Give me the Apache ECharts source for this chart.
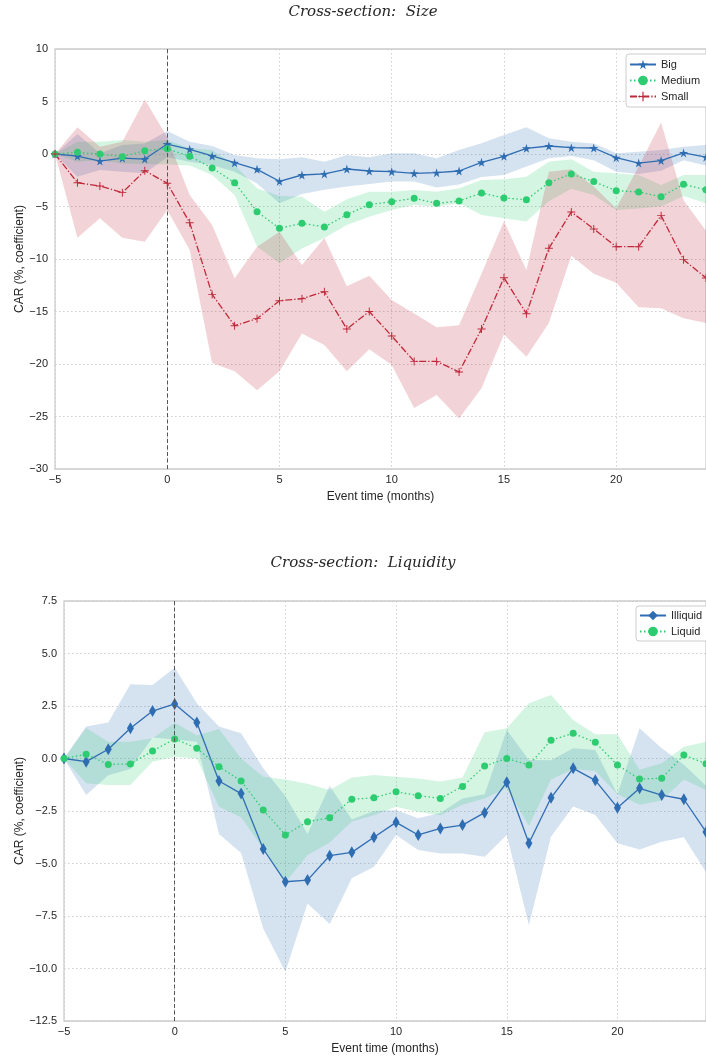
<!DOCTYPE html>
<html>
<head>
<meta charset="utf-8">
<title>Cross-section CAR</title>
<script src="https://cdn.jsdelivr.net/npm/echarts@6/dist/echarts.min.js"></script>
<style>
  html, body { margin: 0; padding: 0; background: #fff; }
  #chart { width: 706px; height: 1057px; }
</style>
</head>
<body>
<div id="chart"></div>
<script>
// Event time in months relative to the event
const months = [-5, -4, -3, -2, -1, 0, 1, 2, 3, 4, 5, 6, 7, 8, 9, 10, 11, 12, 13, 14, 15, 16, 17, 18, 19, 20, 21, 22, 23, 24];

// Size cross-section: point estimates and confidence bands (CAR, %)
const bigCar = [0, -0.2, -0.67, -0.4, -0.48, 0.95, 0.45, -0.19, -0.83, -1.46, -2.6, -2.0, -1.9, -1.43, -1.62, -1.68, -1.84, -1.78, -1.62, -0.79, -0.22, 0.54, 0.76, 0.6, 0.57, -0.35, -0.86, -0.63, 0.1, -0.3];
const bigHi  = [0, 1.9, 0.06, 0.86, 1.0, 2.2, 1.17, 0.76, -0.1, -0.41, -0.5, -0.32, -0.73, -0.1, -0.32, 0.06, 0.06, -0.41, 0.38, 1.02, 1.81, 2.54, 1.49, 1.17, 1.0, 0.06, 0.22, 0.38, 0.7, 0.86];
const bigLo  = [0, -2.16, -1.52, -1.68, -1.84, -0.3, -0.73, -1.05, -1.68, -2.8, -4.7, -3.8, -3.4, -3.1, -2.86, -2.63, -2.63, -3.2, -2.9, -2.2, -2.0, -1.2, -0.4, -0.2, -0.6, -1.7, -1.9, -1.6, -0.6, -1.1];

const medCar = [0, 0.16, 0, -0.25, 0.32, 0.51, -0.22, -1.33, -2.73, -5.5, -7.08, -6.6, -6.95, -5.78, -4.83, -4.54, -4.22, -4.7, -4.48, -3.71, -4.19, -4.35, -2.73, -1.9, -2.63, -3.49, -3.62, -4.06, -2.89, -3.4];
const medHi  = [0, 1.17, 1.17, 1.33, 1.17, 1.33, 0.54, 0.38, -1.05, -3.27, -4.0, -4.06, -5.49, -4.3, -3.6, -3.59, -3.43, -3.59, -3.27, -2.48, -2.41, -2.16, -0.73, -0.51, -1.68, -1.84, -2.0, -2.95, -2.0, -2.0];
const medLo  = [0, -0.73, -0.6, -0.9, -0.95, -1.0, -1.1, -2.0, -3.9, -8.8, -10.4, -9.0, -8.0, -6.76, -5.97, -5.33, -4.86, -5.02, -4.7, -5.81, -6.13, -6.44, -4.5, -3.3, -3.9, -5.33, -5.2, -5.0, -4.0, -4.7];

const smallCar = [0, -2.73, -3.05, -3.68, -1.59, -2.79, -6.54, -13.37, -16.35, -15.68, -13.97, -13.78, -13.11, -16.67, -15.0, -17.33, -19.75, -19.75, -20.76, -16.67, -11.78, -15.21, -8.98, -5.52, -7.14, -8.83, -8.83, -5.87, -10.06, -11.8];
const smallHi  = [0, 2.54, 0.7, 1.17, 5.2, 1.6, -3.9, -6.76, -11.84, -8.83, -7.4, -10.57, -8.0, -12.6, -11.6, -13.9, -15.2, -16.5, -16.3, -11.4, -6.4, -11.05, -1.68, -1.46, -3.1, -5.17, -1.2, 3.0, -4.4, -7.3];
const smallLo  = [0, -7.97, -6.13, -7.97, -8.35, -5.33, -9.14, -19.9, -20.7, -22.5, -20.7, -17.1, -18.2, -20.7, -18.6, -20.1, -24.2, -22.95, -25.2, -22.3, -17.2, -19.3, -16.1, -9.7, -11.4, -12.25, -14.6, -14.7, -15.65, -16.1];

// Liquidity cross-section
const illiqCar = [0, -0.15, 0.44, 1.44, 2.26, 2.6, 1.71, -1.07, -1.67, -4.31, -5.87, -5.79, -4.63, -4.47, -3.75, -3.04, -3.64, -3.33, -3.17, -2.58, -1.13, -4.04, -1.87, -0.47, -1.04, -2.34, -1.42, -1.74, -1.94, -3.5];
const illiqHi  = [0, 1.52, 1.71, 3.53, 3.5, 4.32, 2.63, 1.52, 1.2, -0.47, -1.8, -3.6, -1.3, -2.9, -2.5, -2.45, -2.84, -2.6, -1.9, -1.7, 1.36, -0.07, -0.08, 0.49, 0.41, -1.7, 1.44, 0.49, -0.3, -1.3];
const illiqLo  = [0, -1.74, -0.8, -0.5, 1.0, 0.9, 0.8, -3.6, -4.5, -8.09, -10.15, -6.9, -7.88, -5.7, -5.15, -3.64, -4.36, -4.52, -4.52, -4.68, -3.64, -7.93, -3.72, -2.29, -2.69, -4.04, -4.33, -3.96, -3.75, -5.4];

const liqCar = [0, 0.2, -0.28, -0.26, 0.36, 0.93, 0.49, -0.39, -1.07, -2.45, -3.64, -3.01, -2.82, -1.94, -1.87, -1.58, -1.77, -1.9, -1.33, -0.36, 0.0, -0.31, 0.87, 1.2, 0.77, -0.31, -0.98, -0.94, 0.17, -0.25];
const liqHi  = [0, 1.45, 0.8, 0.8, 0.96, 1.7, 1.1, 1.4, 0.0, -0.87, -1.0, -1.2, -1.5, -0.91, -0.78, -0.87, -0.95, -1.1, -0.91, 1.25, 1.44, 2.63, 3.02, 1.83, 1.15, 1.15, -0.54, -0.23, 0.56, 0.8];
const liqLo  = [0, -1.18, -1.26, -1.26, -0.16, 0.08, 0.0, -2.3, -2.8, -4.3, -5.9, -4.6, -4.0, -3.0, -2.7, -2.3, -2.55, -2.7, -2.2, -1.9, -1.4, -3.2, -1.0, -0.5, -0.6, -1.7, -2.2, -2.0, -1.0, -1.5];

// Axis tick values
const sizeTicksY = [-30, -25, -20, -15, -10, -5, 0, 5, 10];
const liqTicksY = [-12.5, -10, -7.5, -5, -2.5, 0, 2.5, 5, 7.5];
const ticksX = [-5, 0, 5, 10, 15, 20];

const BLUE = '#2f6db3';
const GREEN = '#2ecc71';
const RED = '#c0283a';
const SANS = '"Liberation Sans", Arial, sans-serif';
const TXT = '#262626';

const STAR = 'path://M50,0 L61,35 L98,35 L68,57 L79,91 L50,70 L21,91 L32,57 L2,35 L39,35 Z';
const PLUS = 'path://M44,0 H56 V44 H100 V56 H56 V100 H44 V56 H0 V44 H44 Z';

const minus = v => String(v).replace('-', '\u2212');

// Shaded confidence band drawn as one polygon through the axis scales
function band(axis, lo, hi, fill) {
  const data = months.map((m, i) => [m, lo[i], hi[i]]);
  return {
    type: 'custom', xAxisIndex: axis, yAxisIndex: axis, silent: true, z: 1,
    data, encode: { x: 0, y: [1, 2] },
    renderItem(params, api) {
      if (params.dataIndex !== 0) return null;
      const up = data.map(d => api.coord([d[0], d[2]]));
      const dn = data.map(d => api.coord([d[0], d[1]])).reverse();
      const cs = params.coordSys;
      return {
        type: 'polygon',
        shape: { points: up.concat(dn) },
        style: { fill },
        clipPath: { type: 'rect', shape: { x: cs.x, y: cs.y, width: cs.width, height: cs.height } }
      };
    }
  };
}

function line(axis, name, values, color, dash, symbol, symbolSize) {
  return {
    type: 'line', name, xAxisIndex: axis, yAxisIndex: axis, z: 3,
    data: months.map((m, i) => [m, values[i]]),
    symbol, symbolSize, showSymbol: true,
    lineStyle: { color, width: 1.3, type: dash },
    itemStyle: { color, borderWidth: 0 },
    emphasis: { disabled: true }
  };
}

const zeroLine = {
  silent: true, symbol: 'none', label: { show: false },
  lineStyle: { color: '#555', type: [4, 2.5], width: 1 },
  data: [{ xAxis: 0 }]
};

function xAxis(gridIndex) {
  return {
    type: 'value', gridIndex, min: -5, max: 24, interval: 5,
    name: 'Event time (months)', nameLocation: 'middle', nameGap: 22, nameMoveOverlap: false,
    nameTextStyle: { fontFamily: SANS, fontSize: 12, color: TXT },
    axisLine: { show: false }, axisTick: { show: false },
    axisLabel: {
      fontFamily: SANS, fontSize: 11, color: TXT, margin: 5, showMaxLabel: false,
      formatter: v => ticksX.includes(v) ? minus(v) : ''
    },
    splitLine: { show: true, lineStyle: { color: '#cfcfcf', type: [1.5, 2.5], width: 1 } }
  };
}

function yAxis(gridIndex, min, max, interval, ticks, nameGap, fmt) {
  return {
    type: 'value', gridIndex, min, max, interval,
    name: 'CAR (%, coefficient)', nameLocation: 'middle', nameGap, nameMoveOverlap: false,
    nameTextStyle: { fontFamily: SANS, fontSize: 12, color: TXT },
    axisLine: { show: false }, axisTick: { show: false },
    axisLabel: {
      fontFamily: SANS, fontSize: 11, color: TXT, margin: 7,
      formatter: v => ticks.includes(v) ? minus(fmt(v)) : ''
    },
    splitLine: { show: true, lineStyle: { color: '#cfcfcf', type: [1.5, 2.5], width: 1 } }
  };
}

const legendBase = {
  orient: 'vertical', selectedMode: false,
  backgroundColor: '#fff', borderColor: '#cccccc', borderWidth: 1, borderRadius: 3,
  itemWidth: 26, itemHeight: 12, itemGap: 5,
  textStyle: { fontFamily: SANS, fontSize: 11, color: TXT }
};

const chart = echarts.init(document.getElementById('chart'), null, { renderer: 'canvas' });
chart.setOption({
  animation: false,
  backgroundColor: '#ffffff',
  graphic: [
    { type: 'text', x: 363, y: 12, style: { text: 'Cross-section:  Size', font: 'italic 15px "DejaVu Serif", serif', fill: TXT, textAlign: 'center', textVerticalAlign: 'middle' } },
    { type: 'text', x: 363, y: 563, style: { text: 'Cross-section:  Liquidity', font: 'italic 15px "DejaVu Serif", serif', fill: TXT, textAlign: 'center', textVerticalAlign: 'middle' } }
  ],
  grid: [
    { left: 55, top: 49, height: 420, right: -4.4, show: true, borderColor: '#cccccc', borderWidth: 1.3, backgroundColor: 'transparent' },
    { left: 64, top: 601, height: 420, right: -7.6, show: true, borderColor: '#cccccc', borderWidth: 1.3, backgroundColor: 'transparent' }
  ],
  xAxis: [xAxis(0), xAxis(1)],
  yAxis: [
    yAxis(0, -30, 10, 5, sizeTicksY, 29, v => String(v)),
    yAxis(1, -12.5, 7.5, 2.5, liqTicksY, 38, v => v.toFixed(1))
  ],
  legend: [
    Object.assign({}, legendBase, { data: ['Big', 'Medium', 'Small'], left: 626, top: 54, padding: [5, 40, 5, 3] }),
    Object.assign({}, legendBase, { data: ['Illiquid', 'Liquid'], left: 636, top: 606, padding: [4, 40, 4, 3] })
  ],
  series: [
    band(0, bigLo, bigHi, 'rgba(47,109,179,0.2)'),
    band(0, medLo, medHi, 'rgba(46,204,113,0.2)'),
    band(0, smallLo, smallHi, 'rgba(192,40,58,0.2)'),
    Object.assign(line(0, 'Big', bigCar, BLUE, 'solid', STAR, 9), { markLine: zeroLine }),
    line(0, 'Medium', medCar, GREEN, [1.5, 2.5], 'circle', 7),
    line(0, 'Small', smallCar, RED, [7, 2, 1.3, 2], PLUS, 8),

    band(1, illiqLo, illiqHi, 'rgba(47,109,179,0.2)'),
    band(1, liqLo, liqHi, 'rgba(46,204,113,0.2)'),
    Object.assign(line(1, 'Illiquid', illiqCar, BLUE, 'solid', 'diamond', [7, 12]), { markLine: zeroLine }),
    line(1, 'Liquid', liqCar, GREEN, [1.5, 2.5], 'circle', 7)
  ]
});
</script>
</body>
</html>
